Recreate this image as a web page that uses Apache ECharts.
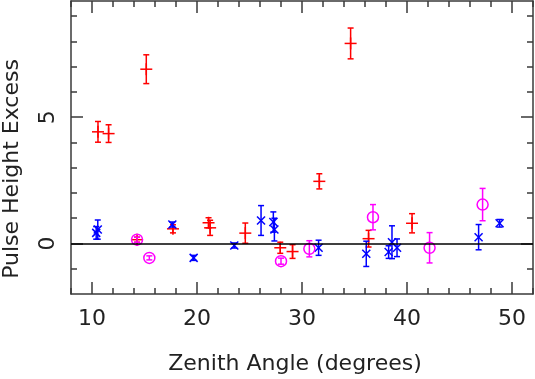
<!DOCTYPE html>
<html>
<head>
<meta charset="utf-8">
<script src="https://cdn.jsdelivr.net/npm/echarts@6/dist/echarts.min.js"></script>
<style>html,body{margin:0;padding:0;background:#fff;}#c{width:535px;height:379px;}</style>
</head>
<body>
<div id="c"></div>
<script>
// ---- data ----
const redX   = [10.57, 11.58, 14.29, 15.17, 17.71, 21.1, 21.25, 24.6, 27.93, 29.1, 31.65, 34.63, 36.34, 40.48];
const redY   = [4.42, 4.35, 0.15, 6.90, 0.58, 0.82, 0.62, 0.41, -0.17, -0.32, 2.46, 7.92, 0.19, 0.80];
const redErr = [0.41, 0.35, 0.10, 0.57, 0.16, 0.20, 0.30, 0.40, 0.22, 0.27, 0.30, 0.61, 0.33, 0.38];

const blueX   = [10.4, 10.55, 17.65, 19.68, 23.55, 26.1, 27.27, 27.37, 31.58, 36.12, 38.25, 38.57, 39.05, 46.82, 48.82];
const blueY   = [0.42, 0.55, 0.75, -0.57, -0.08, 0.91, 0.85, 0.55, -0.17, -0.41, -0.34, 0.05, -0.17, 0.25, 0.80];
const blueErr = [0.25, 0.38, 0.10, 0.10, 0.10, 0.59, 0.40, 0.45, 0.30, 0.50, 0.25, 0.65, 0.35, 0.50, 0.15];

const magX   = [14.29, 15.46, 28.0, 30.7, 36.76, 42.15, 47.2];
const magY   = [0.15, -0.57, -0.70, -0.21, 1.04, -0.17, 1.54];
const magErr = [0.10, 0.08, 0.12, 0.32, 0.50, 0.60, 0.64];

const xMajor = [10, 20, 30, 40, 50];
const xMinor = [8, 12, 14, 16, 18, 22, 24, 26, 28, 32, 34, 36, 38, 42, 44, 46, 48, 52];
const yMajor = [0, 5];
const yMinor = [-1, 1, 2, 3, 4, 6, 7, 8, 9];
const xRange = [8, 52];
const yRange = [-2, 9.6];

const xTitle = 'Zenith Angle (degrees)';
const yTitle = 'Pulse Height Excess';

// ---- chart ----
const FONT = 'DejaVu Sans';
const AX = '#3a3a3a';
const chart = echarts.init(document.getElementById('c'), null, {renderer: 'canvas'});

function zip(xs, ys, es) { return xs.map((x, i) => [x, ys[i], es[i]]); }

function makeRender(kind, color) {
  return function (params, api) {
    const x = api.value(0), y = api.value(1), e = api.value(2);
    const c = api.coord([x, y]);
    const t = api.coord([x, y + e]);
    const b = api.coord([x, y - e]);
    const cap = 3;
    const style = {stroke: color, lineWidth: 1.5, fill: null};
    const ch = [
      {type: 'line', shape: {x1: c[0], y1: t[1], x2: c[0], y2: b[1]}, style: style},
      {type: 'line', shape: {x1: c[0] - cap, y1: t[1], x2: c[0] + cap, y2: t[1]}, style: style},
      {type: 'line', shape: {x1: c[0] - cap, y1: b[1], x2: c[0] + cap, y2: b[1]}, style: style}
    ];
    if (kind === 'plus') {
      ch.push({type: 'line', shape: {x1: c[0] - 6, y1: c[1], x2: c[0] + 6, y2: c[1]}, style: style});
      ch.push({type: 'line', shape: {x1: c[0], y1: c[1] - 6, x2: c[0], y2: c[1] + 6}, style: style});
    } else if (kind === 'cross') {
      const s = 4;
      ch.push({type: 'line', shape: {x1: c[0] - s, y1: c[1] - s, x2: c[0] + s, y2: c[1] + s}, style: style});
      ch.push({type: 'line', shape: {x1: c[0] - s, y1: c[1] + s, x2: c[0] + s, y2: c[1] - s}, style: style});
    } else {
      ch.push({type: 'circle', shape: {cx: c[0], cy: c[1], r: 5.5}, style: style});
    }
    return {type: 'group', children: ch};
  };
}

function xAx(pos, ticks, len, labels, showLine) {
  return {
    type: 'value', position: pos, min: xRange[0], max: xRange[1], gridIndex: 0,
    axisLine: {show: showLine, onZero: false, lineStyle: {color: AX, width: 1.5}},
    axisTick: {show: true, inside: true, length: len, customValues: ticks, lineStyle: {color: AX, width: 1.5}},
    axisLabel: labels ? {show: true, customValues: labels, margin: 14, color: '#222', fontFamily: FONT, fontSize: 22} : {show: false},
    splitLine: {show: false}
  };
}
function yAx(pos, ticks, len, labels, showLine) {
  return {
    type: 'value', position: pos, min: yRange[0], max: yRange[1], gridIndex: 0,
    axisLine: {show: showLine, onZero: false, lineStyle: {color: AX, width: 1.5}},
    axisTick: {show: true, inside: true, length: len, customValues: ticks, lineStyle: {color: AX, width: 1.5}},
    axisLabel: labels ? {show: true, customValues: labels, rotate: 90, margin: 12, color: '#222', fontFamily: FONT, fontSize: 22} : {show: false},
    splitLine: {show: false}
  };
}

chart.setOption({
  animation: false,
  backgroundColor: '#fff',
  grid: {left: 71, right: 2, top: 1, bottom: 85, containLabel: false},
  xAxis: [
    xAx('bottom', xMajor, 12, xMajor, true),
    xAx('bottom', xMinor, 6, null, false),
    xAx('top', xMajor, 12, null, true),
    xAx('top', xMinor, 6, null, false)
  ],
  yAxis: [
    yAx('left', yMajor, 12, yMajor, true),
    yAx('left', yMinor, 6, null, false),
    yAx('right', yMajor, 12, null, true),
    yAx('right', yMinor, 6, null, false)
  ],
  graphic: [
    {type: 'text', x: 295, y: 364, style: {text: xTitle, font: '22px "' + FONT + '"', fill: '#222', align: 'center', verticalAlign: 'middle'}},
    {type: 'text', x: 12, y: 169, rotation: Math.PI / 2, style: {text: yTitle, font: '22px "' + FONT + '"', fill: '#222', align: 'center', verticalAlign: 'middle'}}
  ],
  series: [
    {type: 'line', data: [], xAxisIndex: 0, yAxisIndex: 0, silent: true,
     markLine: {silent: true, symbol: 'none', label: {show: false}, lineStyle: {color: '#000', width: 1.5, type: 'solid'}, data: [{yAxis: 0}]}},
    {type: 'custom', xAxisIndex: 0, yAxisIndex: 0, renderItem: makeRender('plus', '#ff0000'), data: zip(redX, redY, redErr)},
    {type: 'custom', xAxisIndex: 0, yAxisIndex: 0, renderItem: makeRender('cross', '#0000ff'), data: zip(blueX, blueY, blueErr)},
    {type: 'custom', xAxisIndex: 0, yAxisIndex: 0, renderItem: makeRender('circle', '#ff00ff'), data: zip(magX, magY, magErr)}
  ]
});
</script>
</body>
</html>
